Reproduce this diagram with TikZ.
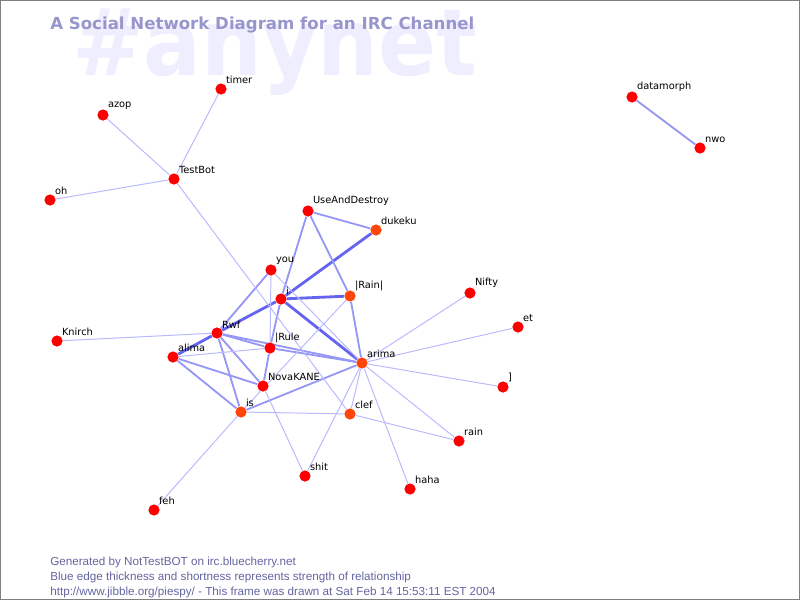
\documentclass[tikz,border=0pt]{standalone}
\usepackage{fontspec}
\setmainfont{DejaVu Sans}
\newfontfamily\footfont{Liberation Sans}
\usetikzlibrary{backgrounds}

\definecolor{nickred}{RGB}{255,0,0}
\definecolor{nickorange}{RGB}{255,70,10}
\definecolor{edgestrong}{RGB}{100,100,240}
\definecolor{edgemid}{RGB}{150,150,245}
\definecolor{edgeweak}{RGB}{185,185,255}
\definecolor{titleblue}{RGB}{150,150,205}
\definecolor{markblue}{RGB}{238,238,255}
\definecolor{footblue}{RGB}{100,100,160}

\tikzset{
  nick/.style={circle, inner sep=0pt, minimum size=0.28cm},
  lbl/.style={inner sep=0.4pt, font=\fontsize{7}{8}\selectfont},
  foot/.style={anchor=base west, inner sep=0, text=footblue, font=\footfont\fontsize{8.3}{10}\selectfont},
  w1/.style={edgeweak, line width=0.7pt},
  w2/.style={edgemid, line width=1.3pt},
  w3/.style={edgestrong, line width=2pt}
}

\begin{document}
\begin{tikzpicture}[x=0.025cm, y=-0.025cm]

\useasboundingbox (0,0) rectangle (800,600);
\draw[gray, line width=0.7pt] (0.5,0.5) rectangle (799.5,599.5);

% nicks
\foreach \n/\x/\y/\col/\txt in {
	timer/221/89/nickred/timer,
	azop/103/115/nickred/azop,
	testbot/174/179/nickred/TestBot,
	oh/50/200/nickred/oh,
	datamorph/632/97/nickred/datamorph,
	nwo/700/148/nickred/nwo,
	useanddestroy/308/211/nickred/UseAndDestroy,
	dukeku/376/230/nickorange/dukeku,
	you/271/270/nickred/you,
	i/281/299/nickred/i,
	rainbar/350/296/nickorange/|Rain|,
	nifty/470/293/nickred/Nifty,
	et/518/327/nickred/et,
	knirch/57/341/nickred/Knirch,
	rwf/217/333/nickred/Rwf,
	alima/173/357/nickred/alima,
	rule/270/348/nickred/|Rule,
	arima/362/363/nickorange/arima,
	novakane/263/386/nickred/NovaKANE,
	bracket/503/387/nickred/],
	is/241/412/nickorange/is,
	clef/350/414/nickorange/clef,
	rain/459/441/nickred/rain,
	shit/305/476/nickred/shit,
	haha/410/489/nickred/haha,
	feh/154/510/nickred/feh}
\node[nick, fill=\col, label={[lbl]north east:\txt}] (\n) at (\x, \y) {};

\begin{pgfonlayer}{background}
\node[anchor=base west, inner sep=0, text=markblue, font=\bfseries\fontsize{66}{66}\selectfont] (mark) at (72, 75) {\scalebox{0.92}[1]{\#anynet}};
\node[anchor=base west, inner sep=0, text=titleblue, font=\bfseries\fontsize{11.8}{14}\selectfont] (title) at (50, 29) {A Social Network Diagram for an IRC Channel};

% edges
\foreach \a/\b in {i/dukeku, i/rainbar, i/arima, i/rwf, rwf/alima}
\draw[w3] (\a) -- (\b);
\foreach \a/\b in {useanddestroy/dukeku, useanddestroy/i, useanddestroy/rainbar,
	rainbar/arima, you/rwf, i/rule, rwf/rule, rwf/arima, rwf/novakane, rwf/is,
	alima/novakane, alima/is, rule/novakane, rule/arima, is/arima, datamorph/nwo}
\draw[w2] (\a) -- (\b);
\foreach \a/\b in {timer/testbot, azop/testbot, oh/testbot, testbot/clef,
	knirch/rwf, you/rule, you/arima, alima/rule, rainbar/is, novakane/shit,
	is/clef, is/feh, clef/rain, arima/nifty, arima/et, arima/bracket,
	arima/rain, arima/haha, arima/shit, arima/clef}
\draw[w1] (\a) -- (\b);
\end{pgfonlayer}

% footer
\node[foot] (gen) at (50, 565) {Generated by NotTestBOT on irc.bluecherry.net};
\node[foot] (expl) at (50, 580) {Blue edge thickness and shortness represents strength of relationship};
\node[foot] (url) at (50, 595) {http://www.jibble.org/piespy/ - This frame was drawn at Sat Feb 14 15:53:11 EST 2004};

\end{tikzpicture}
\end{document}
